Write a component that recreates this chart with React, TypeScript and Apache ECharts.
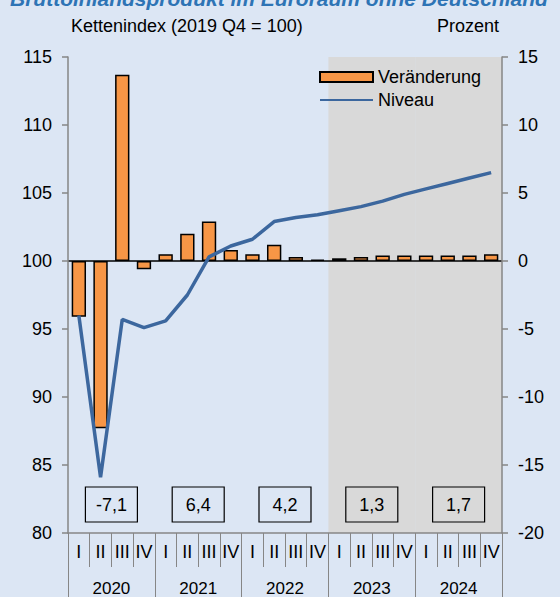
import React, { useEffect, useRef } from 'react';
import * as echarts from 'echarts';

const quarterLabels = [
  'I', 'II', 'III', 'IV',
  'I', 'II', 'III', 'IV',
  'I', 'II', 'III', 'IV',
  'I', 'II', 'III', 'IV',
  'I', 'II', 'III', 'IV',
];
const years = ['2020', '2021', '2022', '2023', '2024'];
// quarterly change, percent (right axis)
const changes = [-4.1, -12.3, 13.7, -0.6, 0.5, 2.0, 2.9, 0.8, 0.5, 1.2, 0.3, 0.1, 0.2, 0.3, 0.4, 0.4, 0.4, 0.4, 0.4, 0.5];
// chain index 2019 Q4 = 100 (left axis)
const levels = [96.0, 84.1, 95.7, 95.1, 95.6, 97.5, 100.3, 101.1, 101.6, 102.9, 103.2, 103.4, 103.7, 104.0, 104.4, 104.9, 105.3, 105.7, 106.1, 106.5];
// annual growth rates shown in boxes
const annualGrowth = [-7.1, 6.4, 4.2, 1.3, 1.7];
// indices of projection years (shaded)
const projectionYears = [3, 4];

const titleText = 'Bruttoinlandsprodukt im Euroraum ohne Deutschland';
const leftUnit = 'Kettenindex (2019 Q4 = 100)';
const rightUnit = 'Prozent';

const FONT = 'Liberation Sans, Arial, sans-serif';
const AXIS_GRAY = '#868686';

export default function App() {
  const ref = useRef<HTMLDivElement>(null);

  useEffect(() => {
    if (!ref.current) return;
    const chart = echarts.init(ref.current, null, { renderer: 'svg' });

    const option: any = {
      animation: false,
      backgroundColor: '#DCE6F4',
      textStyle: { fontFamily: FONT },
      title: [
        {
          text: titleText,
          left: 10,
          top: -12,
          padding: 0,
          textStyle: { fontSize: 21, fontWeight: 'bold', fontStyle: 'italic', color: '#2E74B5', fontFamily: FONT },
        },
        {
          text: leftUnit,
          left: 71,
          top: 17,
          padding: 0,
          textStyle: { fontSize: 18, fontWeight: 'normal', color: '#000', fontFamily: FONT },
        },
        {
          text: rightUnit,
          left: 437,
          top: 17,
          padding: 0,
          textStyle: { fontSize: 18, fontWeight: 'normal', color: '#000', fontFamily: FONT },
        },
      ],
      legend: {
        orient: 'vertical',
        left: 319,
        top: 68,
        padding: 0,
        itemGap: 5,
        itemWidth: 53,
        itemHeight: 10,
        textStyle: { fontSize: 18, color: '#000', fontFamily: FONT },
        data: [
          { name: 'Veränderung', icon: 'rect' },
          { name: 'Niveau', itemStyle: { opacity: 0 } },
        ],
      },
      grid: { left: 68, right: 58, top: 57, bottom: 64, containLabel: false },
      xAxis: [
        {
          type: 'category',
          data: quarterLabels,
          position: 'bottom',
          offset: 0,
          z: 10,
          axisLine: { show: true, onZero: false, lineStyle: { color: AXIS_GRAY, width: 1.5 } },
          axisTick: { show: true, alignWithLabel: false, length: 34, lineStyle: { color: AXIS_GRAY, width: 1 } },
          axisLabel: { fontSize: 18, color: '#000', margin: 10, fontFamily: FONT, interval: 0 },
          splitLine: { show: false },
        },
        {
          type: 'category',
          data: years,
          position: 'bottom',
          offset: 0,
          z: 10,
          axisLine: { show: false, onZero: false },
          axisTick: { show: true, alignWithLabel: false, length: 64, lineStyle: { color: AXIS_GRAY, width: 1 } },
          axisLabel: { fontSize: 17, color: '#000', margin: 47, fontFamily: FONT, interval: 0 },
          splitLine: { show: false },
        },
      ],
      yAxis: [
        {
          type: 'value',
          min: 80,
          max: 115,
          interval: 5,
          position: 'left',
          z: 10,
          axisLine: { show: true, onZero: false, lineStyle: { color: AXIS_GRAY, width: 1.5 } },
          axisTick: { show: true, length: 6, lineStyle: { color: AXIS_GRAY, width: 1.5 } },
          axisLabel: { fontSize: 18, color: '#000', margin: 16, fontFamily: FONT },
          splitLine: { show: false },
        },
        {
          type: 'value',
          min: -20,
          max: 15,
          interval: 5,
          position: 'right',
          z: 10,
          axisLine: { show: true, onZero: false, lineStyle: { color: AXIS_GRAY, width: 1.5 } },
          axisTick: { show: true, length: 6, lineStyle: { color: AXIS_GRAY, width: 1.5 } },
          axisLabel: { fontSize: 18, color: '#000', margin: 16, fontFamily: FONT },
          splitLine: { show: false },
        },
      ],
      series: [
        {
          type: 'custom',
          name: 'Projektion',
          xAxisIndex: 1,
          yAxisIndex: 0,
          z: 1,
          silent: true,
          data: projectionYears.map((i) => [i]),
          renderItem: (params: any, api: any) => {
            const idx = api.value(0);
            const top = api.coord([idx, 115]);
            const bottom = api.coord([idx, 80]);
            const w = api.size([1, 0])[0];
            return {
              type: 'rect',
              shape: { x: top[0] - w / 2, y: top[1], width: w, height: bottom[1] - top[1] },
              style: { fill: '#D9D9D9' },
            };
          },
        },
        {
          type: 'bar',
          name: 'Veränderung',
          xAxisIndex: 0,
          yAxisIndex: 1,
          z: 2,
          barWidth: '66%',
          data: changes,
          itemStyle: { color: '#F79646', borderColor: '#000', borderWidth: 1.5 },
          markLine: {
            silent: true,
            symbol: 'none',
            label: { show: false },
            lineStyle: { color: '#000', width: 1.5, type: 'solid' },
            data: [{ yAxis: 0 }],
            z: 2,
          },
        },
        {
          type: 'line',
          name: 'Niveau',
          xAxisIndex: 0,
          yAxisIndex: 0,
          z: 3,
          data: levels,
          symbol: 'none',
          showSymbol: false,
          smooth: false,
          lineStyle: { color: '#3C679E', width: 3.5 },
          itemStyle: { color: '#3C679E' },
        },
        {
          type: 'custom',
          name: 'Jahresrate',
          xAxisIndex: 1,
          yAxisIndex: 0,
          z: 4,
          silent: true,
          data: annualGrowth.map((v, i) => [i, v]),
          renderItem: (params: any, api: any) => {
            const idx = api.value(0);
            const v = api.value(1);
            const base = api.coord([idx, 80]);
            const bw = 52;
            const bh = 35;
            const y0 = base[1] - 11 - bh;
            return {
              type: 'group',
              children: [
                {
                  type: 'rect',
                  shape: { x: base[0] - bw / 2, y: y0, width: bw, height: bh },
                  style: { fill: 'none', stroke: '#000', lineWidth: 1.2 },
                },
                {
                  type: 'text',
                  x: base[0],
                  y: y0 + bh / 2,
                  style: {
                    text: Number(v).toFixed(1).replace('.', ','),
                    fontSize: 18,
                    fontFamily: FONT,
                    fill: '#000',
                    align: 'center',
                    verticalAlign: 'middle',
                  },
                },
              ],
            };
          },
        },
      ],
    };

    chart.setOption(option);
    return () => {
      chart.dispose();
    };
  }, []);

  return (
    <div
      ref={ref}
      style={{ position: 'fixed', left: 0, top: 0, width: 560, height: 597 }}
    />
  );
}
